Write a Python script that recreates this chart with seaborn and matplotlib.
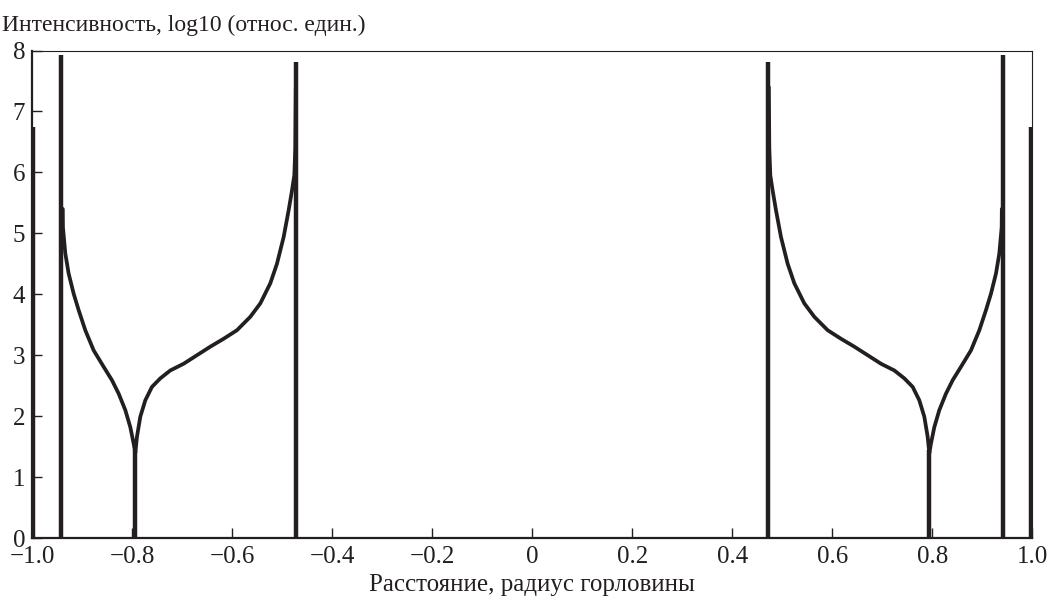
import numpy as np
import pandas as pd
import matplotlib
matplotlib.use("Agg")
import matplotlib.pyplot as plt
import seaborn as sns

# ---- data ----
# smooth curve, left lobe (x = distance, y = log10 intensity)
left_x = [-0.9390, -0.9387, -0.934, -0.9273, -0.9173, -0.9073, -0.894, -0.8773,
          -0.8573, -0.8407, -0.8273, -0.814, -0.804, -0.7973, -0.794, -0.7907,
          -0.784, -0.774, -0.7607, -0.744, -0.724, -0.6973, -0.6707, -0.644,
          -0.6173, -0.5907, -0.564, -0.544, -0.524, -0.5107, -0.4973, -0.4873,
          -0.4807, -0.4760, -0.4740, -0.4730]
left_y = [5.40, 5.10, 4.67, 4.34, 4.01, 3.74, 3.41, 3.08,
          2.81, 2.59, 2.37, 2.10, 1.82, 1.55, 1.39, 1.66,
          1.99, 2.26, 2.48, 2.62, 2.75, 2.86, 3.00, 3.14,
          3.27, 3.41, 3.63, 3.85, 4.18, 4.50, 4.94, 5.38,
          5.70, 5.95, 6.40, 7.40]
# right lobe
right_x = [0.4730, 0.4740, 0.4760, 0.4807, 0.4873, 0.4973, 0.5107, 0.524,
           0.544, 0.564, 0.5907, 0.6173, 0.644, 0.6707, 0.6973, 0.724,
           0.744, 0.7607, 0.774, 0.784, 0.7907, 0.794, 0.7973, 0.804,
           0.814, 0.8273, 0.8407, 0.8573, 0.8773, 0.894, 0.9073, 0.9173,
           0.9273, 0.934, 0.9387, 0.9390]
right_y = [7.40, 6.40, 5.95, 5.70, 5.38, 4.94, 4.50, 4.18,
           3.85, 3.63, 3.41, 3.27, 3.14, 3.00, 2.86, 2.75,
           2.62, 2.48, 2.26, 1.99, 1.66, 1.39, 1.55, 1.82,
           2.10, 2.37, 2.59, 2.81, 3.08, 3.41, 3.74, 4.01,
           4.34, 4.67, 5.10, 5.40]
# vertical spikes: position and peak height
spike_x = [-0.998, -0.943, -0.795, -0.472, 0.471, 0.794, 0.942, 0.997]
spike_top = [6.74, 7.92, 1.45, 7.81, 7.81, 1.45, 7.92, 6.74]

x_ticks = [-1.0, -0.8, -0.6, -0.4, -0.2, 0, 0.2, 0.4, 0.6, 0.8, 1.0]
x_tick_labels = ["\u22121.0", "\u22120.8", "\u22120.6", "\u22120.4", "\u22120.2",
                 "0", "0.2", "0.4", "0.6", "0.8", "1.0"]
y_ticks = [0, 1, 2, 3, 4, 5, 6, 7, 8]
title_text = "Интенсивность, log10 (относ. един.)"
xlabel_text = "Расстояние, радиус горловины"

# ---- build long table of segments ----
rows = []
for i, (xx, yy) in enumerate([(left_x, left_y), (right_x, right_y)]):
    for a, b in zip(xx, yy):
        rows.append(("curve%d" % i, a, b))
for j, (sx, st) in enumerate(zip(spike_x, spike_top)):
    rows.append(("spike%d" % j, sx, 0.0))
    rows.append(("spike%d" % j, sx, st))
df = pd.DataFrame(rows, columns=["seg", "x", "y"])

sns.set_theme(style="ticks")
plt.rcParams["font.family"] = ["Liberation Serif", "DejaVu Serif"]

fig = plt.figure(figsize=(10.52, 6.0), dpi=100)
ax = fig.add_axes([0.0307, 0.1033, 0.9506, 0.8125])

color = "#231f20"
sns.lineplot(data=df[df.seg.str.startswith("curve")], x="x", y="y", units="seg",
             estimator=None, sort=False, color=color, linewidth=2.7, ax=ax)
sns.lineplot(data=df[df.seg.str.startswith("spike")], x="x", y="y", units="seg",
             estimator=None, sort=False, color=color, linewidth=3.2, ax=ax,
             solid_capstyle="butt")

ax.set_xlim(-1.0, 1.0)
ax.set_ylim(0, 8)
ax.set_xticks(x_ticks)
ax.set_xticklabels(x_tick_labels)
ax.set_yticks(y_ticks)
ax.tick_params(axis="both", direction="in", length=7, width=1.0, labelsize=18,
               colors=color)
ax.tick_params(axis="x", pad=6)
ax.tick_params(axis="y", pad=5)
ax.tick_params(top=False, right=False)
for side in ["left", "bottom"]:
    ax.spines[side].set_linewidth(1.6)
    ax.spines[side].set_color(color)
for side in ["top", "right"]:
    ax.spines[side].set_visible(True)
    ax.spines[side].set_linewidth(0.8)
    ax.spines[side].set_color(color)

ax.set_xlabel(xlabel_text, fontsize=18, color=color, labelpad=4)
ax.set_ylabel("")
fig.text(0.002, 1 - 31 / 600, title_text, fontsize=17, color=color,
         ha="left", va="baseline")

fig.savefig("out.png", dpi=100)
